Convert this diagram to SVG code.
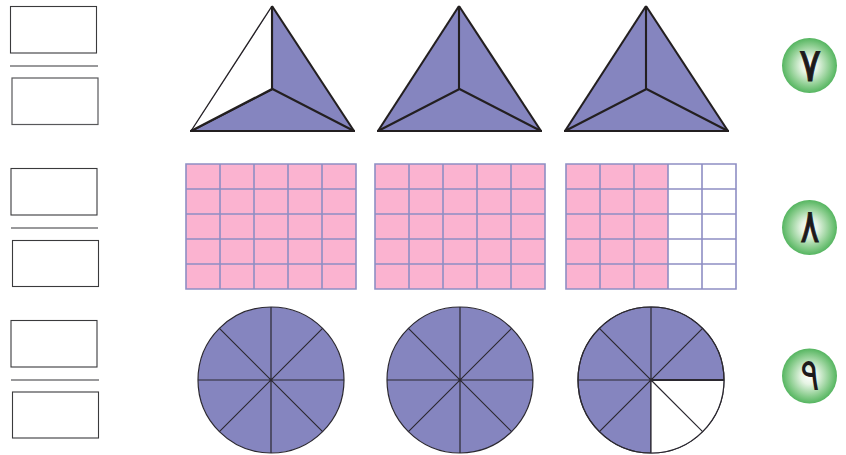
<svg xmlns="http://www.w3.org/2000/svg" xmlns:xlink="http://www.w3.org/1999/xlink" width="846" height="455" viewBox="0 0 846 455">
<style>
.box{fill:#fff;stroke:#3a3a3c;stroke-width:1.1}
.box2{fill:#fff;stroke:#58585a;stroke-width:1.2}
.rule{stroke:#77777a;stroke-width:1.3;fill:none}
.vio{fill:#8585bf}
.tl{stroke:#231f20;stroke-width:2.1;fill:none;stroke-linejoin:miter}
.tt{stroke:#231f20;stroke-width:1.3;fill:none}
.gl{stroke:#8e8ec4;stroke-width:1.6;fill:none}
.pk{fill:#fbb3d0}
.cl{stroke:#2b2830;stroke-width:1.2;fill:none}
.num{font-family:"DejaVu Sans","Noto Sans",sans-serif;font-weight:400;fill:#1d1a1b;stroke:#1d1a1b;stroke-width:.7;text-anchor:middle}
</style>
<defs>
<radialGradient id="g"><stop offset="0" stop-color="#ffffff"/><stop offset="0.3" stop-color="#e6f4e4"/><stop offset="0.75" stop-color="#88cc8c"/><stop offset="1" stop-color="#55b560"/></radialGradient>
<g id="tri">
<path class="vio" d="M0 0L82 125H-81Z"/>
<path class="tl" d="M0 0L82 125"/>
<path class="tl" d="M-82 125H83" stroke-width="2.8"/>
<path class="tl" d="M.5 83L82 125M.5 83L-81 125"/>
<path class="tl" d="M0 0V83"/>
</g>
<g id="fullc">
<circle r="73" class="vio"/>
<circle r="73" class="cl"/>
<path class="cl" d="M0-73V73M-73 0H73M-51.600-51.600L51.600 51.600M-51.600 51.600L51.600-51.600"/>
</g>
<path id="gr" class="gl" d="M0 0H170V125H0ZM34 0V125M68 0V125M102 0V125M136 0V125M0 25H170M0 50H170M0 75H170M0 100H170"/>
</defs>
<rect width="846" height="455" fill="#fff"/>
<g id="answer-7">
<rect class="box" x="10.500" y="6.500" width="86" height="46.500"/>
<path class="rule" d="M10 66H98"/>
<rect class="box2" x="12" y="78" width="86" height="46.500"/>
</g>
<g id="answer-8">
<rect class="box" x="11" y="168.500" width="86" height="46.500"/>
<path class="rule" d="M11 228H98"/>
<rect class="box" x="12.500" y="240.500" width="86" height="46"/>
</g>
<g id="answer-9">
<rect class="box" x="11" y="320.500" width="86" height="46.500"/>
<path class="rule" d="M11 380H99"/>
<rect class="box" x="12.500" y="392" width="86" height="46"/>
</g>
<g id="triangles">
<g id="tri-1" transform="translate(272 6)">
<use xlink:href="#tri" href="#tri"/>
<path d="M0 1V83L-80 124.200Z" fill="#fff"/>
<path class="tl" d="M0 0V83L-81 125"/>
<path class="tt" d="M0 0L-81 125"/>
</g>
<g id="tri-2" transform="translate(459 6)"><use xlink:href="#tri" href="#tri"/><path class="tl" d="M0 0L-81 125"/></g>
<g id="tri-3" transform="translate(646 6)"><use xlink:href="#tri" href="#tri"/><path class="tl" d="M0 0L-81 125"/></g>
</g>
<g id="grids">
<g id="grid-1" transform="translate(186 164)"><rect class="pk" width="170" height="125"/><use xlink:href="#gr" href="#gr"/></g>
<g id="grid-2" transform="translate(375 164)"><rect class="pk" width="170" height="125"/><use xlink:href="#gr" href="#gr"/></g>
<g id="grid-3" transform="translate(566 164)"><rect class="pk" width="102" height="125"/><use xlink:href="#gr" href="#gr"/></g>
</g>
<g id="circles">
<g id="circle-1" transform="translate(271 380)"><use xlink:href="#fullc" href="#fullc"/></g>
<g id="circle-2" transform="translate(460 380)"><use xlink:href="#fullc" href="#fullc"/></g>
<g id="circle-3" transform="translate(651 380)">
<use xlink:href="#fullc" href="#fullc"/>
<path d="M0 0H73A73 73 0 0 1 0 73Z" fill="#fff"/>
<path class="cl" d="M0 0L51.600 51.600M0 0V73"/>
<path d="M0 0H73" stroke="#2b2830" stroke-width="2"/>
<circle r="73" class="cl"/>
</g>
</g>
<g id="badges">
<g id="badge-7"><circle cx="809.500" cy="65.500" r="27.500" fill="url(#g)"/><text class="num" transform="translate(810 80.500) scale(1.15 1.3)" font-size="36">۷</text></g>
<g id="badge-8"><circle cx="809.500" cy="227.500" r="27.500" fill="url(#g)"/><text class="num" transform="translate(810 241.500) scale(1 1.3)" font-size="36">۸</text></g>
<g id="badge-9"><circle cx="809.500" cy="376" r="27.500" fill="url(#g)"/><text class="num" transform="translate(810 389.500) scale(1 1.25)" font-size="36" font-weight="700" style="stroke-width:0">۹</text></g>
</g>
</svg>
